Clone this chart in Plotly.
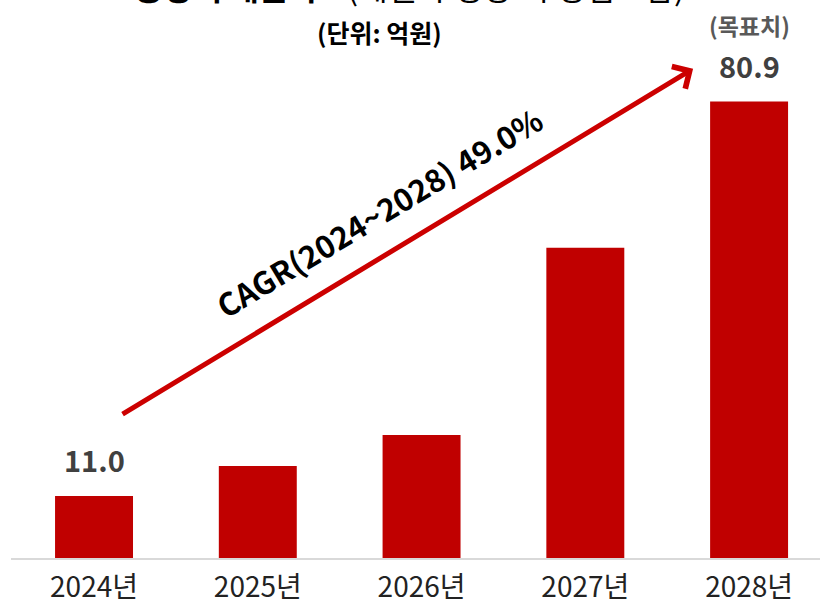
import plotly.graph_objects as go

# data
years = ["2024년", "2025년", "2026년", "2027년", "2028년"]
sales = [11.0, 16.3, 21.8, 55.0, 80.9]
shown_labels = ["11.0", "", "", "", "80.9"]

cagr_text = "CAGR(2024~2028) 49.0%"
title_main = "<b>중장기 매출목표</b>(계열사 성장 시 영업포함)"
unit_text = "<b>(단위: 억원)</b>"
target_text = "<b>(목표치)</b>"

FONT = "Noto Sans CJK KR"
RED = "#c00000"

fig = go.Figure()

fig.add_trace(
    go.Bar(
        x=years,
        y=sales,
        marker=dict(color=RED, line=dict(width=0)),
        hoverinfo="skip",
    )
)

# value labels above first / last bar
for yr, val, lab in zip(years, sales, shown_labels):
    if lab:
        fig.add_annotation(
            x=yr, y=val, text=f"<b>{lab}</b>", showarrow=False,
            yanchor="bottom", yshift=14,
            font=dict(family=FONT, size=29, color="#404040"),
        )

# "(목표치)" above the last value
fig.add_annotation(
    x=years[-1], y=sales[-1], text=target_text, showarrow=False,
    yanchor="bottom", yshift=58,
    font=dict(family=FONT, size=23, color="#595959"),
)

# CAGR arrow
fig.add_annotation(
    x=3.658, y=86.7, ax=0.165, ay=25.35,
    xref="x", yref="y", axref="x", ayref="y",
    showarrow=True, arrowhead=4, arrowsize=1, arrowwidth=5,
    arrowcolor="#cc0000", text="",
)
fig.add_annotation(
    x=1.74, y=61.5, xref="x", yref="y", text=f"<b>{cagr_text}</b>",
    showarrow=False, textangle=-31,
    font=dict(family=FONT, size=31, color="#000000"),
)

# title (partly cut at the top of the page)
fig.add_annotation(
    x=0.493, y=1, xref="paper", yref="paper", text=title_main, showarrow=False,
    yanchor="middle", yshift=14,
    font=dict(family=FONT, size=32, color="#000000"),
)
fig.add_annotation(
    x=0.456, y=1, xref="paper", yref="paper", text=unit_text, showarrow=False,
    yanchor="middle", yshift=-32,
    font=dict(family=FONT, size=25, color="#000000"),
)

fig.update_xaxes(
    range=[-0.507, 4.433], showline=True, linecolor="#d9d9d9", linewidth=2,
    showgrid=False, ticks="", ticklabelstandoff=3, automargin=False,
    tickfont=dict(family=FONT, size=28, color="#222222"),
    fixedrange=True,
)
fig.update_yaxes(range=[0, 98.9], visible=False, fixedrange=True, automargin=False)

fig.update_layout(
    width=820,
    height=608,
    bargap=0.524,
    showlegend=False,
    plot_bgcolor="white",
    paper_bgcolor="white",
    margin=dict(l=11, r=0, t=0, b=50),
)

fig.write_html(
    "out.html",
    config={"displayModeBar": False},
    post_script="document.body.style.margin='0';",
)
